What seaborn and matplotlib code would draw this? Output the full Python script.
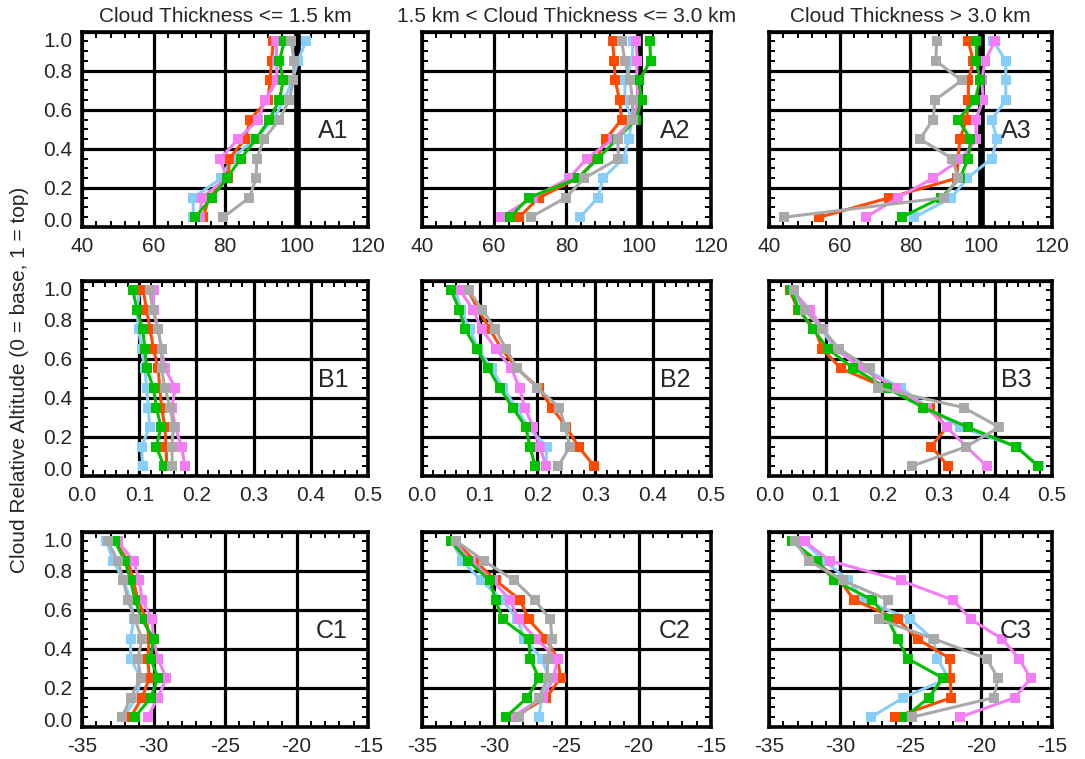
import matplotlib
matplotlib.use('Agg')
import matplotlib.pyplot as plt
from matplotlib.ticker import MultipleLocator, AutoMinorLocator
import seaborn as sns

# relative altitude levels (top to bottom)
alt = [0.95, 0.85, 0.75, 0.65, 0.55, 0.45, 0.35, 0.25, 0.15, 0.05]

# row A (x 40..120)
a1 = {'orange': [93.5, 93.0, 92.6, 92.0, 87.0, 85.6, 81.2, 80.9, 75.5, 73.9],
      'grey':   [98.5, 99.3, 99.1, 98.0, 95.2, 90.9, 88.9, 88.7, 86.8, 79.5],
      'blue':   [102.6, 100.4, 98.8, 96.5, 93.5, 88.4, 81.8, 79.0, 71.1, 71.1],
      'violet': [94.3, 94.5, 94.5, 91.2, 89.3, 83.7, 78.6, 80.5, 73.5, 73.0],
      'green':  [96.6, 95.2, 96.3, 95.2, 92.4, 88.7, 84.4, 80.5, 76.3, 71.6]}
a2 = {'orange': [92.8, 93.2, 93.5, 94.7, 95.3, 90.9, 88.4, 83.2, 72.4, 66.9],
      'grey':   [95.3, 96.2, 97.6, 98.3, 98.3, 94.2, 94.4, 85.0, 79.8, 70.1],
      'blue':   [98.5, 98.1, 96.2, 96.2, 98.1, 97.3, 95.8, 90.1, 88.7, 83.8],
      'violet': [99.3, 99.6, 99.4, 99.9, 98.5, 93.0, 85.6, 80.8, 70.7, 61.8],
      'green':  [103.1, 103.3, 100.1, 100.8, 99.3, 94.0, 88.7, 83.2, 69.6, 64.4]}
a3 = {'orange': [96.4, 97.8, 96.4, 96.4, 95.9, 94.0, 93.5, 93.1, 74.0, 54.2],
      'grey':   [87.4, 87.2, 94.5, 87.0, 86.4, 82.7, 91.9, 93.5, 89.4, 44.2],
      'blue':   [103.5, 107.0, 107.0, 107.0, 103.0, 104.5, 103.0, 96.1, 91.6, 81.1],
      'violet': [103.9, 101.1, 100.2, 100.6, 98.5, 98.7, 94.5, 86.4, 76.4, 67.4],
      'green':  [98.7, 98.7, 99.7, 98.3, 93.5, 97.0, 96.4, 94.0, 88.7, 77.5]}

# row B (x 0..0.5)
b1 = {'orange': [0.107, 0.113, 0.119, 0.125, 0.133, 0.136, 0.139, 0.145, 0.147, 0.148],
      'grey':   [0.118, 0.124, 0.133, 0.139, 0.139, 0.145, 0.154, 0.160, 0.157, 0.158],
      'blue':   [0.101, 0.096, 0.099, 0.104, 0.110, 0.113, 0.116, 0.118, 0.104, 0.106],
      'violet': [0.125, 0.125, 0.133, 0.139, 0.145, 0.163, 0.157, 0.163, 0.174, 0.180],
      'green':  [0.089, 0.096, 0.106, 0.110, 0.113, 0.125, 0.130, 0.138, 0.130, 0.143]}
b2 = {'orange': [0.080, 0.098, 0.118, 0.138, 0.165, 0.202, 0.225, 0.250, 0.271, 0.298],
      'grey':   [0.081, 0.105, 0.127, 0.146, 0.165, 0.200, 0.238, 0.248, 0.256, 0.236],
      'blue':   [0.058, 0.068, 0.083, 0.098, 0.121, 0.141, 0.163, 0.184, 0.216, 0.215],
      'violet': [0.066, 0.089, 0.104, 0.128, 0.155, 0.169, 0.178, 0.193, 0.204, 0.215],
      'green':  [0.051, 0.065, 0.075, 0.095, 0.115, 0.135, 0.157, 0.180, 0.187, 0.196]}
b3 = {'orange': [0.036, 0.051, 0.081, 0.094, 0.127, 0.208, 0.284, 0.314, 0.287, 0.317],
      'grey':   [0.043, 0.063, 0.094, 0.124, 0.178, 0.193, 0.344, 0.407, 0.349, 0.252],
      'blue':   [0.040, 0.063, 0.093, 0.116, 0.166, 0.234, 0.279, 0.338, 0.438, 0.478],
      'violet': [0.041, 0.072, 0.096, 0.119, 0.163, 0.225, 0.279, 0.314, 0.349, 0.385],
      'green':  [0.038, 0.053, 0.078, 0.104, 0.149, 0.208, 0.273, 0.351, 0.437, 0.476]}

# row C (x -35..-15)
c1 = {'orange': [-32.7, -31.8, -31.4, -31.1, -30.5, -30.3, -30.4, -30.3, -30.8, -31.6],
      'grey':   [-33.2, -32.5, -32.1, -31.8, -31.3, -30.8, -31.1, -30.9, -31.6, -32.2],
      'blue':   [-33.3, -32.8, -32.1, -31.6, -31.4, -31.6, -31.6, -30.9, -31.2, -32.1],
      'violet': [-32.5, -31.4, -31.0, -30.8, -30.1, -30.0, -29.7, -29.1, -29.7, -30.4],
      'green':  [-32.7, -32.0, -31.6, -31.3, -30.8, -30.0, -30.2, -29.7, -30.2, -31.3]}
c2 = {'orange': [-32.7, -31.3, -29.9, -28.2, -27.6, -26.4, -25.6, -25.4, -26.4, -28.6],
      'grey':   [-32.6, -30.7, -28.6, -27.2, -26.1, -26.0, -26.3, -26.3, -26.9, -28.3],
      'blue':   [-32.9, -32.2, -30.9, -29.4, -28.4, -27.9, -26.7, -26.2, -26.7, -26.9],
      'violet': [-32.8, -31.6, -30.1, -28.9, -28.3, -27.1, -25.6, -25.9, -26.6, -28.8],
      'green':  [-33.0, -31.8, -30.3, -29.9, -29.4, -27.6, -27.5, -26.9, -27.7, -29.2]}
c3 = {'orange': [-33.3, -31.8, -30.0, -29.0, -25.9, -24.5, -22.2, -22.2, -22.1, -26.1],
      'grey':   [-33.2, -32.2, -29.8, -26.6, -27.2, -23.3, -19.6, -18.8, -19.1, -24.9],
      'blue':   [-32.6, -31.1, -29.4, -28.3, -25.0, -23.4, -23.1, -22.3, -25.5, -27.8],
      'violet': [-32.5, -30.7, -25.7, -22.0, -20.7, -18.5, -17.3, -16.5, -17.6, -21.5],
      'green':  [-33.4, -31.6, -30.4, -27.7, -26.6, -25.9, -25.2, -22.7, -23.7, -25.4]}

panels = [[a1, a2, a3], [b1, b2, b3], [c1, c2, c3]]
panel_names = [['A1', 'A2', 'A3'], ['B1', 'B2', 'B3'], ['C1', 'C2', 'C3']]
col_titles = ['Cloud Thickness <= 1.5 km',
              '1.5 km < Cloud Thickness <= 3.0 km',
              'Cloud Thickness > 3.0 km']
xlims = [(40, 120), (0, 0.5), (-35, -15)]
xsteps = [20, 0.1, 5]

colors = {'blue': '#87CEFA', 'orange': '#FF4A00', 'violet': '#F47CF4',
          'green': '#00C000', 'grey': '#A9A9A9'}
draw_order = ['blue', 'orange', 'violet', 'green', 'grey']

sns.set_style('white')
plt.rcParams['font.family'] = ['Liberation Sans', 'DejaVu Sans']
plt.rcParams['axes.unicode_minus'] = False

fig = plt.figure(figsize=(10.85, 7.59), dpi=100)
lefts = [0.0756, 0.3887, 0.7090]
widths = [0.2636, 0.2666, 0.2603]
bottoms = [0.7009, 0.3729, 0.0422]
height = 0.2575

for r in range(3):
    for c in range(3):
        ax = fig.add_axes([lefts[c], bottoms[r], widths[c], height])
        data = panels[r][c]
        for i, k in enumerate(draw_order):
            z = 3 + i
            sns.lineplot(x=data[k], y=alt, color=colors[k], orient='y', sort=False,
                         estimator=None, lw=2.2, zorder=z, ax=ax)
            sns.scatterplot(x=data[k], y=alt, color=colors[k], marker='s', s=48,
                            linewidth=0, zorder=z, ax=ax)

        if r == 0:
            ax.axvline(100, color='black', lw=4.8, zorder=1)
            ax.set_title(col_titles[c], fontsize=15, pad=7)

        ax.set_xlim(*xlims[r])
        ax.set_ylim(0, 1)
        ax.xaxis.set_major_locator(MultipleLocator(xsteps[r]))
        ax.xaxis.set_minor_locator(AutoMinorLocator(5))
        ax.set_yticks([0, 0.2, 0.4, 0.6, 0.8, 1.0],
                      labels=['0.0', '0.2', '0.4', '0.6', '0.8', '1.0'])
        ax.yaxis.set_minor_locator(MultipleLocator(0.05))
        ax.grid(True, which='major', color='black', lw=2.3)
        ax.set_axisbelow(True)
        for sp in ax.spines.values():
            sp.set_color('black')
            sp.set_linewidth(2.6)
            sp.set_zorder(10)
        ax.tick_params(which='both', direction='in', top=True, right=True,
                       bottom=True, left=True, labelsize=15, color='black', width=1.4)
        ax.tick_params(which='major', length=5, pad=7)
        ax.tick_params(which='minor', length=4)
        ax.set_xlabel('')
        ax.set_ylabel('')
        if c > 0:
            ax.tick_params(labelleft=False)
        else:
            for lab in ax.get_yticklabels():
                if lab.get_text() == '1.0':
                    lab.set_verticalalignment('top')
                elif lab.get_text() == '0.0':
                    lab.set_verticalalignment('baseline')
        ax.text(0.93, 0.49, panel_names[r][c], transform=ax.transAxes,
                ha='right', va='center', fontsize=18, zorder=11)

fig.text(0.0184, 0.5, 'Cloud Relative Altitude (0 = base, 1 = top)',
         rotation=90, ha='center', va='center', fontsize=15)

fig.savefig('out.png', dpi=100)
